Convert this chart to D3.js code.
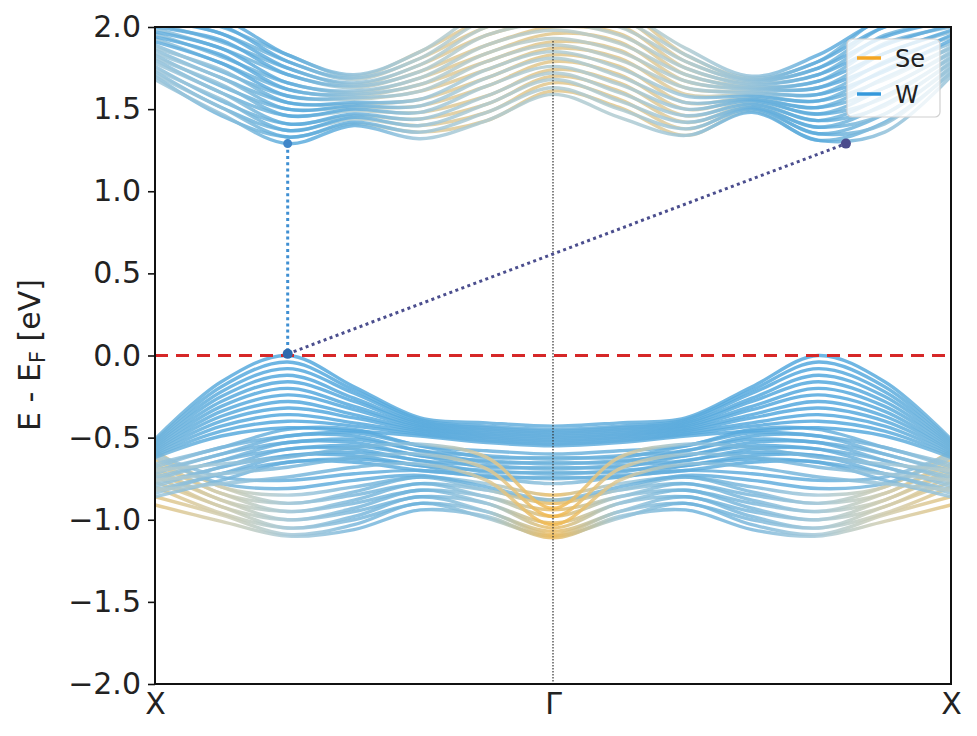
<!DOCTYPE html>
<html><head><meta charset="utf-8">
<script src="https://cdn.jsdelivr.net/npm/d3@7/dist/d3.min.js"></script>
<style>
body{margin:0;background:#fff;}
text{font-family:"DejaVu Sans",sans-serif;}
</style>
</head><body>
<svg id="chart" width="977" height="736"></svg>
<script>
// ---------- data ----------
const kPoints = [0,0.0833,0.1667,0.25,0.3333,0.4167,0.5,0.5833,0.6667,0.75,0.8333,0.9167,1];
const kTickPos = [0,0.5,1];
const kTickLabels = ["X","Γ","X"];
const yTicks = [-2,-1.5,-1,-0.5,0,0.5,1,1.5,2];
const legendLabels = ["Se","W"];

// valence bands: "hump" family (W character)
const vbHump = [
 [-0.51,-0.16,0.00,-0.19,-0.38,-0.41,-0.43,-0.41,-0.38,-0.19,0.00,-0.16,-0.51],
 [-0.52,-0.19,-0.04,-0.21,-0.39,-0.43,-0.45,-0.43,-0.39,-0.21,-0.04,-0.19,-0.52],
 [-0.53,-0.22,-0.08,-0.23,-0.40,-0.44,-0.46,-0.44,-0.40,-0.23,-0.08,-0.22,-0.53],
 [-0.54,-0.25,-0.12,-0.26,-0.41,-0.45,-0.47,-0.45,-0.41,-0.26,-0.12,-0.25,-0.54],
 [-0.55,-0.28,-0.16,-0.28,-0.42,-0.46,-0.48,-0.46,-0.42,-0.28,-0.16,-0.28,-0.55],
 [-0.56,-0.31,-0.20,-0.31,-0.43,-0.47,-0.49,-0.47,-0.43,-0.31,-0.20,-0.31,-0.56],
 [-0.57,-0.34,-0.24,-0.33,-0.44,-0.48,-0.50,-0.48,-0.44,-0.33,-0.24,-0.34,-0.57],
 [-0.58,-0.37,-0.28,-0.36,-0.45,-0.49,-0.51,-0.49,-0.45,-0.36,-0.28,-0.37,-0.58],
 [-0.59,-0.40,-0.32,-0.38,-0.46,-0.50,-0.52,-0.50,-0.46,-0.38,-0.32,-0.40,-0.59],
 [-0.60,-0.43,-0.36,-0.41,-0.47,-0.51,-0.53,-0.51,-0.47,-0.41,-0.36,-0.43,-0.60],
 [-0.61,-0.46,-0.40,-0.43,-0.48,-0.52,-0.54,-0.52,-0.48,-0.43,-0.40,-0.46,-0.61],
 [-0.62,-0.49,-0.44,-0.46,-0.49,-0.53,-0.55,-0.53,-0.49,-0.46,-0.44,-0.49,-0.62]
];
// second, lower hump family
const vbSecond = [
 [-0.66,-0.56,-0.45,-0.45,-0.55,-0.58,-0.60,-0.58,-0.55,-0.45,-0.45,-0.56,-0.66],
 [-0.68,-0.56,-0.49,-0.47,-0.55,-0.62,-0.62,-0.62,-0.55,-0.47,-0.49,-0.56,-0.68],
 [-0.70,-0.60,-0.49,-0.49,-0.58,-0.61,-0.63,-0.61,-0.58,-0.49,-0.49,-0.60,-0.70],
 [-0.72,-0.60,-0.53,-0.51,-0.58,-0.65,-0.65,-0.65,-0.58,-0.51,-0.53,-0.60,-0.72],
 [-0.74,-0.64,-0.53,-0.53,-0.61,-0.64,-0.66,-0.64,-0.61,-0.53,-0.53,-0.64,-0.74],
 [-0.76,-0.64,-0.57,-0.55,-0.61,-0.68,-0.68,-0.68,-0.61,-0.55,-0.57,-0.64,-0.76],
 [-0.78,-0.68,-0.57,-0.57,-0.64,-0.67,-0.69,-0.67,-0.64,-0.57,-0.57,-0.68,-0.78],
 [-0.80,-0.68,-0.61,-0.59,-0.64,-0.71,-0.71,-0.71,-0.64,-0.59,-0.61,-0.68,-0.80],
 [-0.82,-0.72,-0.61,-0.61,-0.67,-0.70,-0.72,-0.70,-0.67,-0.61,-0.61,-0.72,-0.82],
 [-0.84,-0.72,-0.65,-0.63,-0.67,-0.74,-0.74,-0.74,-0.67,-0.63,-0.65,-0.72,-0.84],
 [-0.86,-0.76,-0.65,-0.65,-0.70,-0.73,-0.75,-0.73,-0.70,-0.65,-0.65,-0.76,-0.86]
];
const vbMiddle = [
 [-0.60,-0.74,-0.76,-0.72,-0.70,-0.74,-0.78,-0.74,-0.70,-0.72,-0.76,-0.74,-0.60],
 [-0.62,-0.78,-0.81,-0.76,-0.73,-0.80,-0.88,-0.80,-0.73,-0.76,-0.81,-0.78,-0.62]
];
const vbLow = [
 [-0.58,-0.80,-0.85,-0.80,-0.74,-0.78,-0.85,-0.78,-0.74,-0.80,-0.85,-0.80,-0.58],
 [-0.61,-0.80,-0.90,-0.83,-0.74,-0.82,-0.88,-0.82,-0.74,-0.83,-0.90,-0.80,-0.61],
 [-0.63,-0.84,-0.90,-0.85,-0.78,-0.82,-0.90,-0.82,-0.78,-0.85,-0.90,-0.84,-0.63],
 [-0.66,-0.84,-0.95,-0.88,-0.78,-0.86,-0.94,-0.86,-0.78,-0.88,-0.95,-0.84,-0.66],
 [-0.68,-0.88,-0.95,-0.90,-0.82,-0.86,-0.98,-0.86,-0.82,-0.90,-0.95,-0.88,-0.68],
 [-0.71,-0.88,-1.00,-0.93,-0.82,-0.90,-1.02,-0.90,-0.82,-0.93,-1.00,-0.88,-0.71],
 [-0.73,-0.92,-1.00,-0.95,-0.86,-0.90,-1.05,-0.90,-0.86,-0.95,-1.00,-0.92,-0.73],
 [-0.77,-0.92,-1.05,-0.98,-0.86,-0.95,-1.07,-0.95,-0.86,-0.98,-1.05,-0.92,-0.77],
 [-0.80,-0.96,-1.05,-1.00,-0.90,-0.95,-1.09,-0.95,-0.90,-1.00,-1.05,-0.96,-0.80],
 [-0.86,-0.97,-1.09,-1.03,-0.90,-0.99,-1.10,-0.99,-0.90,-1.03,-1.09,-0.97,-0.86],
 [-0.91,-1.01,-1.10,-1.06,-0.94,-0.98,-1.11,-0.98,-0.94,-1.06,-1.10,-1.01,-0.91]
];
const vbVee = [
 [-0.70,-0.66,-0.62,-0.56,-0.54,-0.62,-0.93,-0.62,-0.54,-0.56,-0.62,-0.66,-0.70],
 [-0.76,-0.72,-0.68,-0.62,-0.60,-0.69,-0.98,-0.69,-0.60,-0.62,-0.68,-0.72,-0.76],
 [-0.82,-0.78,-0.74,-0.68,-0.66,-0.76,-1.03,-0.76,-0.66,-0.68,-0.74,-0.78,-0.82]
];
// conduction bands, first family (W-like at the valleys)
const cbLower = [
 [1.68,1.47,1.29,1.40,1.32,1.43,1.59,1.45,1.34,1.48,1.31,1.36,1.70],
 [1.71,1.51,1.33,1.42,1.36,1.48,1.63,1.50,1.38,1.50,1.35,1.41,1.73],
 [1.74,1.56,1.37,1.45,1.40,1.53,1.68,1.55,1.42,1.51,1.39,1.47,1.76],
 [1.78,1.60,1.41,1.47,1.44,1.58,1.72,1.60,1.46,1.53,1.43,1.52,1.79],
 [1.81,1.65,1.46,1.50,1.48,1.64,1.76,1.65,1.50,1.55,1.47,1.57,1.82],
 [1.84,1.69,1.50,1.52,1.52,1.69,1.81,1.70,1.54,1.56,1.51,1.63,1.85],
 [1.87,1.74,1.54,1.54,1.56,1.74,1.85,1.75,1.58,1.58,1.55,1.68,1.88]
];
const cbUpper = [
 [1.91,1.78,1.58,1.57,1.61,1.79,1.89,1.80,1.63,1.60,1.59,1.73,1.92],
 [1.94,1.83,1.62,1.59,1.65,1.84,1.93,1.85,1.67,1.62,1.63,1.78,1.95],
 [1.97,1.87,1.66,1.61,1.69,1.89,1.98,1.90,1.71,1.63,1.67,1.84,1.98],
 [2.00,1.92,1.71,1.64,1.73,1.95,2.02,1.95,1.75,1.65,1.71,1.89,2.01],
 [2.04,1.96,1.75,1.66,1.77,2.00,2.06,2.00,1.79,1.67,1.75,1.94,2.04],
 [2.07,2.01,1.79,1.69,1.81,2.05,2.11,2.05,1.83,1.68,1.79,2.00,2.07],
 [2.10,2.05,1.83,1.71,1.85,2.10,2.15,2.10,1.87,1.70,1.83,2.05,2.10]
];
// conduction bands, second family (mixed Se/W in the middle)
const cbMixed = [
 [1.70,1.46,1.33,1.41,1.36,1.43,1.61,1.51,1.34,1.49,1.31,1.42,1.72],
 [1.73,1.51,1.37,1.44,1.40,1.48,1.66,1.56,1.38,1.51,1.35,1.47,1.75],
 [1.76,1.55,1.41,1.46,1.44,1.53,1.70,1.61,1.42,1.52,1.39,1.53,1.78],
 [1.80,1.60,1.46,1.49,1.48,1.58,1.74,1.66,1.46,1.54,1.43,1.58,1.81],
 [1.83,1.64,1.50,1.51,1.52,1.64,1.79,1.71,1.50,1.56,1.47,1.63,1.84],
 [1.86,1.69,1.54,1.53,1.56,1.69,1.83,1.76,1.54,1.57,1.51,1.69,1.87],
 [1.89,1.73,1.58,1.56,1.61,1.74,1.87,1.81,1.59,1.59,1.55,1.74,1.90],
 [1.93,1.78,1.62,1.58,1.65,1.79,1.91,1.86,1.63,1.61,1.59,1.79,1.94],
 [1.96,1.82,1.66,1.60,1.69,1.84,1.96,1.91,1.67,1.63,1.63,1.84,1.97],
 [1.99,1.87,1.71,1.63,1.73,1.89,2.00,1.96,1.71,1.64,1.67,1.90,2.00],
 [2.02,1.91,1.75,1.65,1.77,1.95,2.04,2.01,1.75,1.66,1.71,1.95,2.03],
 [2.06,1.96,1.79,1.68,1.81,2.00,2.09,2.06,1.79,1.68,1.75,2.00,2.06],
 [2.09,2.00,1.83,1.70,1.85,2.05,2.13,2.11,1.83,1.69,1.79,2.06,2.09]
];
// Se weight (0 = pure W, 1 = pure Se) along k for each family
const seHump   = [0.15,0.05,0.02,0.03,0.05,0.08,0.10,0.08,0.05,0.03,0.02,0.05,0.15];
const seSecond = [0.35,0.20,0.08,0.05,0.08,0.12,0.15,0.12,0.08,0.05,0.08,0.20,0.35];
const seMiddle = [0.40,0.20,0.10,0.08,0.10,0.15,0.30,0.15,0.10,0.08,0.10,0.20,0.40];
const seLow    = [0.80,0.65,0.40,0.20,0.15,0.35,0.90,0.35,0.15,0.20,0.40,0.65,0.80];
const seVee    = [0.50,0.35,0.20,0.15,0.30,0.75,0.95,0.75,0.30,0.15,0.20,0.35,0.50];
const seCBLow  = [0.35,0.30,0.05,0.10,0.35,0.45,0.45,0.45,0.35,0.10,0.05,0.30,0.35];
const seCBUp   = [0.10,0.06,0.08,0.30,0.45,0.50,0.50,0.50,0.45,0.30,0.08,0.06,0.10];
const seCBMix  = [0.30,0.15,0.15,0.45,0.72,0.78,0.78,0.78,0.72,0.45,0.15,0.15,0.30];

// band-edge markers
const vbmPoint = {k:0.1667, e:0.01};
const cbmDirect = {k:0.1667, e:1.29};
const cbmIndirect = {k:0.868, e:1.29};
const fermiLevel = 0;

// ---------- drawing ----------
const W_COLOR = "#3498db", SE_COLOR = "#f5a623";
const svg = d3.select("#chart");
const L = 155, R = 951, T = 27, B = 684;
const x = d3.scaleLinear().domain([0,1]).range([L,R]);
const y = d3.scaleLinear().domain([-2,2]).range([B,T]);
const mix = d3.scaleLinear().domain([0,0.4,0.7,1])
  .range(["#4fa6de","#a8cad9","#d9cda8","#f7b43a"]).interpolate(d3.interpolateRgb);

const defs = svg.append("defs");
defs.append("clipPath").attr("id","plotclip").append("rect")
  .attr("x",L).attr("y",T).attr("width",R-L).attr("height",B-T);

function gradient(id, weights){
  const g = defs.append("linearGradient").attr("id",id)
    .attr("gradientUnits","userSpaceOnUse")
    .attr("x1",x(0)).attr("x2",x(1)).attr("y1",0).attr("y2",0);
  weights.forEach((w,i)=>{
    g.append("stop").attr("offset",kPoints[i]).attr("stop-color",mix(w));
  });
  return "url(#"+id+")";
}

const line = d3.line()
  .x((d,i)=>x(kPoints[i]))
  .y(d=>y(d))
  .curve(d3.curveCatmullRom.alpha(0.5));

const bandsG = svg.append("g").attr("clip-path","url(#plotclip)");
function drawFamily(bands, weights, id, sw){
  const stroke = gradient(id, weights);
  bandsG.append("g").selectAll("path").data(bands).join("path")
    .attr("d", line)
    .attr("fill","none")
    .attr("stroke", stroke)
    .attr("stroke-width", sw)
    .attr("stroke-opacity", 0.85)
    .attr("stroke-linecap","round");
}
drawFamily(cbMixed, seCBMix, "gCBM", 3.4);
drawFamily(cbLower, seCBLow, "gCBL", 3.4);
drawFamily(cbUpper, seCBUp, "gCBU", 3.4);
drawFamily(vbLow, seLow, "gL", 3.4);
drawFamily(vbMiddle, seMiddle, "gM", 3.4);
drawFamily(vbSecond, seSecond, "gS", 3.4);
drawFamily(vbVee, seVee, "gV", 3.4);
drawFamily(vbHump, seHump, "gH", 3.4);

// Gamma vertical dotted line
svg.append("line")
  .attr("x1",x(0.5)).attr("x2",x(0.5)).attr("y1",T+14).attr("y2",B)
  .attr("stroke","#333").attr("stroke-width",1.2).attr("stroke-dasharray","1.5,1.5");

// Fermi level dashed line
svg.append("line")
  .attr("x1",L).attr("x2",R).attr("y1",y(fermiLevel)).attr("y2",y(fermiLevel))
  .attr("stroke","#d62728").attr("stroke-width",3.2).attr("stroke-dasharray","13,8");

// direct gap dotted connector
svg.append("line")
  .attr("x1",x(cbmDirect.k)).attr("x2",x(vbmPoint.k))
  .attr("y1",y(cbmDirect.e)).attr("y2",y(vbmPoint.e))
  .attr("stroke","#3f8fd2").attr("stroke-width",3).attr("stroke-dasharray","3,3.2");
// indirect gap dotted connector
svg.append("line")
  .attr("x1",x(vbmPoint.k)).attr("x2",x(cbmIndirect.k))
  .attr("y1",y(vbmPoint.e)).attr("y2",y(cbmIndirect.e))
  .attr("stroke","#4b4e8e").attr("stroke-width",3).attr("stroke-dasharray","3,3.4");

svg.append("circle").attr("cx",x(cbmDirect.k)).attr("cy",y(cbmDirect.e)).attr("r",4.5).attr("fill","#3f86c8");
svg.append("circle").attr("cx",x(vbmPoint.k)).attr("cy",y(vbmPoint.e)).attr("r",5).attr("fill","#2f6aae");
svg.append("circle").attr("cx",x(cbmIndirect.k)).attr("cy",y(cbmIndirect.e)).attr("r",5).attr("fill","#4b4b8c");

// frame
svg.append("rect").attr("x",L).attr("y",T).attr("width",R-L).attr("height",B-T)
  .attr("fill","none").attr("stroke","#111").attr("stroke-width",2);

// y axis
const yAxis = d3.axisLeft(y).tickValues(yTicks).tickFormat(d3.format(".1f")).tickSize(7).tickPadding(7);
const yg = svg.append("g").attr("transform","translate("+L+",0)").call(yAxis);
yg.select(".domain").remove();
yg.selectAll(".tick line").attr("stroke","#111").attr("stroke-width",1.6);
yg.selectAll(".tick text").attr("font-size",30).attr("fill","#222").attr("font-family","DejaVu Sans");

// x axis
const xAxis = d3.axisBottom(x).tickValues(kTickPos).tickFormat((d,i)=>kTickLabels[i]).tickSize(0).tickPadding(9);
const xg = svg.append("g").attr("transform","translate(0,"+B+")").call(xAxis);
xg.select(".domain").remove();
xg.selectAll(".tick text").attr("font-size",30).attr("fill","#222").attr("font-family","DejaVu Sans");

// y label
const yl = svg.append("text").attr("transform","translate(40,355) rotate(-90)")
  .attr("text-anchor","middle").attr("font-size",30).attr("fill","#222");
yl.append("tspan").text("E - E");
yl.append("tspan").attr("font-size",21).attr("dy",5).text("F");
yl.append("tspan").attr("dy",-5).text(" [eV]");

// legend
const lg = svg.append("g");
lg.append("rect").attr("x",847).attr("y",39).attr("width",93).attr("height",78).attr("rx",5)
  .attr("fill","#fff").attr("fill-opacity",0.8).attr("stroke","#d0d0d0").attr("stroke-width",1.2);
const legendColors = [SE_COLOR, W_COLOR];
legendLabels.forEach((lab,i)=>{
  const yy = 58 + i*36;
  lg.append("line").attr("x1",857).attr("x2",881).attr("y1",yy).attr("y2",yy)
    .attr("stroke",legendColors[i]).attr("stroke-width",3.5);
  lg.append("text").attr("x",895).attr("y",yy+9).attr("font-size",24).attr("fill","#222").text(lab);
});
</script>
</body></html>
